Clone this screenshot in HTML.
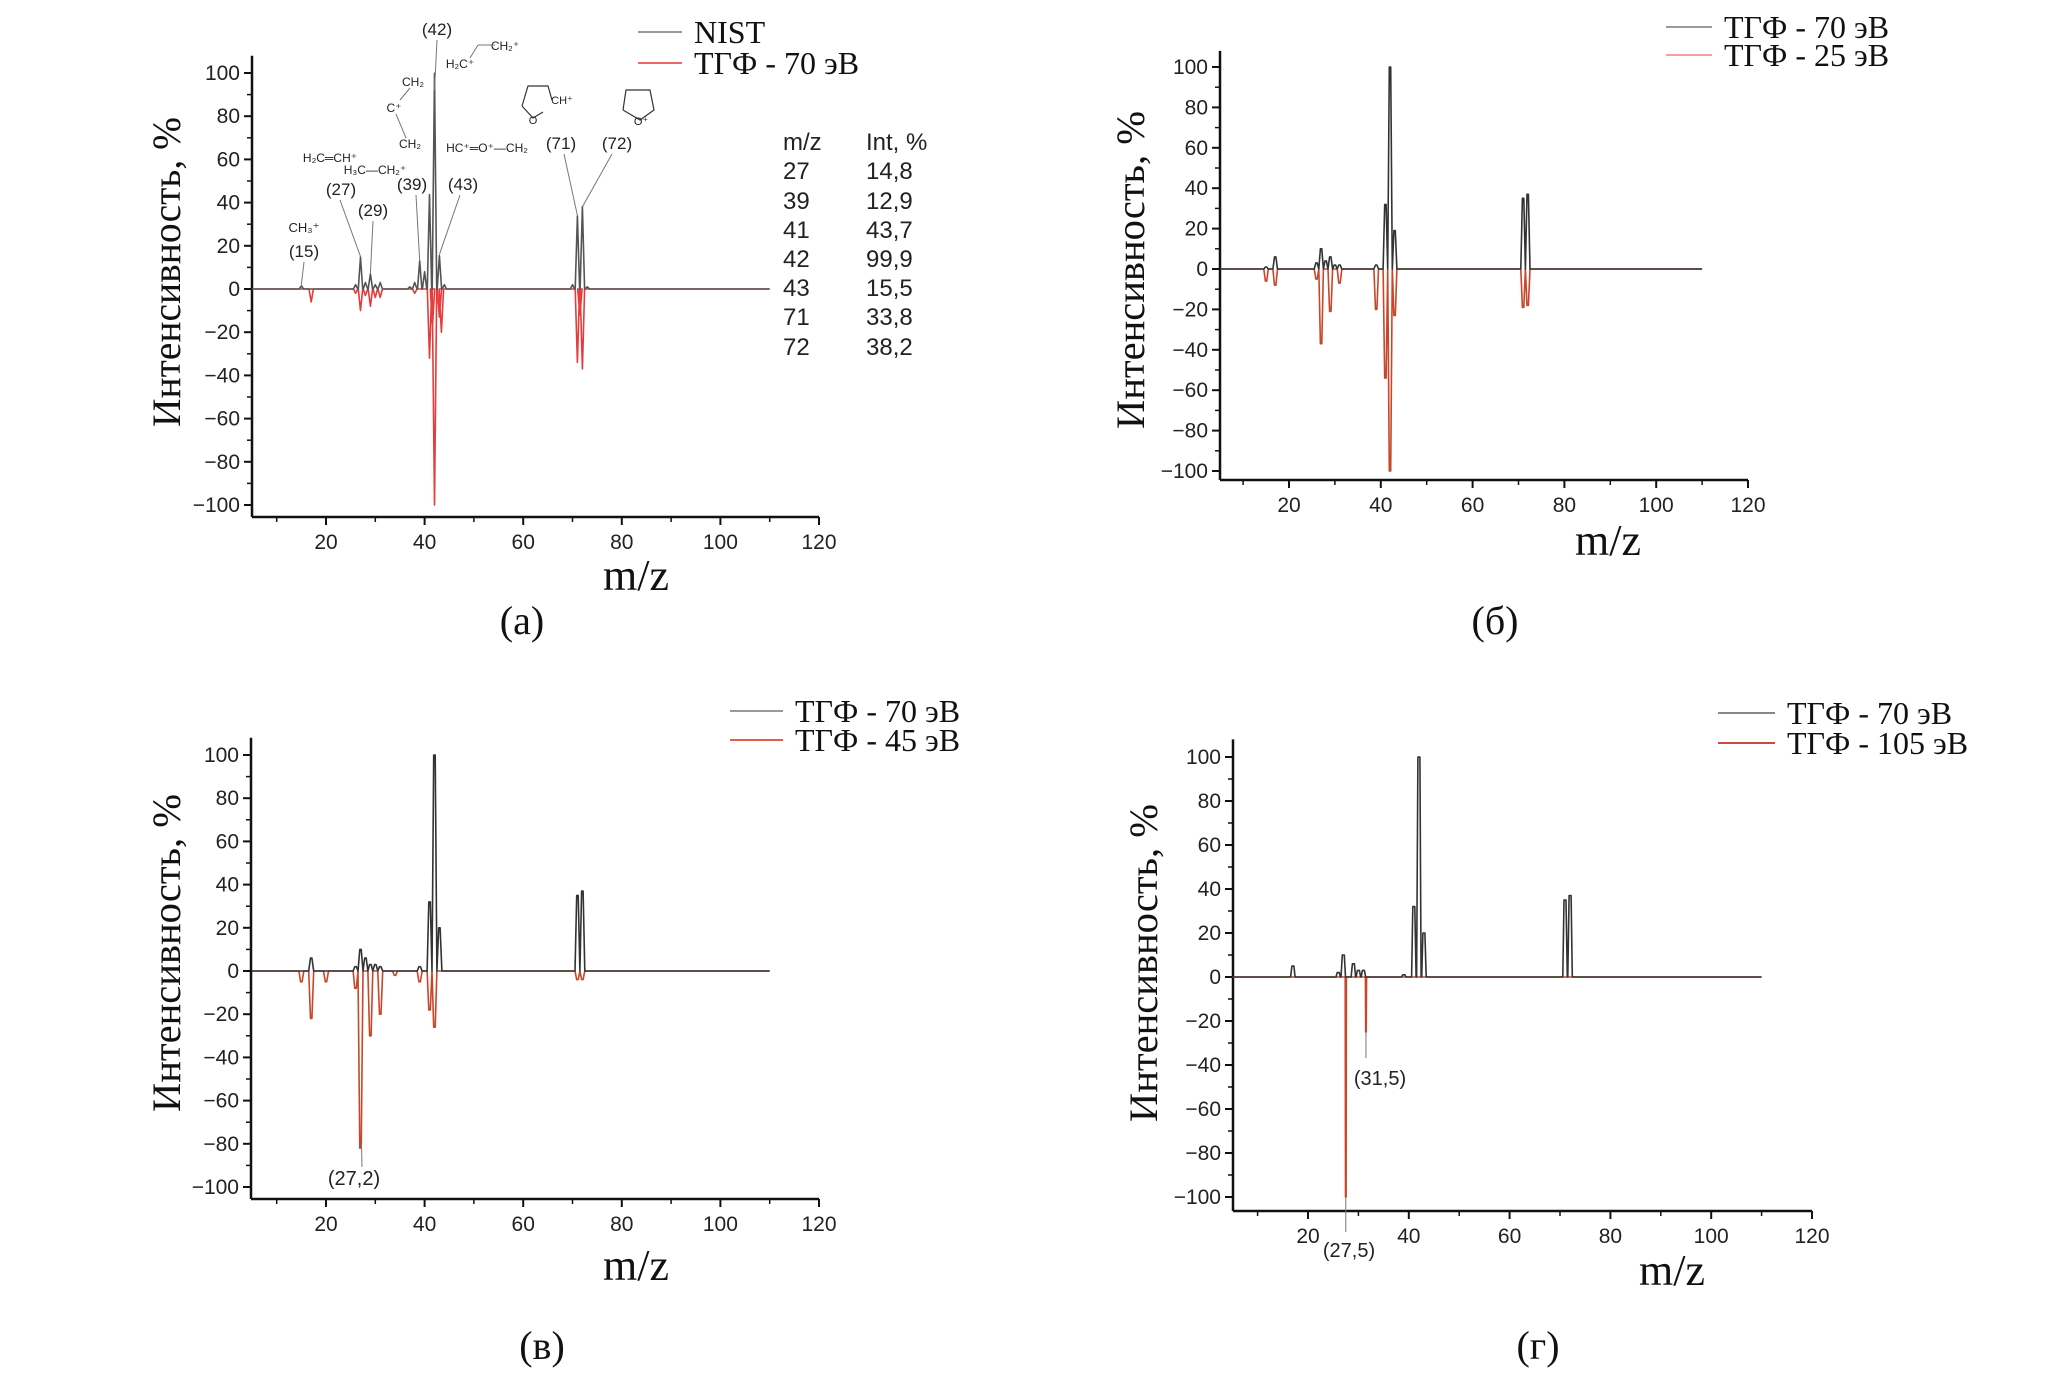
<!DOCTYPE html>
<html><head><meta charset="utf-8">
<style>
html,body{margin:0;padding:0;background:#fff}
svg{display:block}
.tick{font-family:"Liberation Sans Narrow","Liberation Sans",sans-serif;font-size:21px;fill:#222}
.ser{font-family:"Liberation Serif",serif;fill:#111}
.ann{font-family:"Liberation Sans Narrow","Liberation Sans",sans-serif;fill:#222}
</style></head>
<body>
<svg id="fig" width="2067" height="1388" viewBox="0 0 2067 1388" xmlns="http://www.w3.org/2000/svg">
<g id="layer"></g>
</svg>
<script>
// ---- data (m/z, intensity %) ----
const aBlackMz = [15,26,27,28,29,30,31,37,38,39,40,41,42,43,44,70,71,72,73];
const aBlackI  = [1.5,2,14.8,3,7,2,3,1,3,12.9,8,43.7,99.9,15.5,2,2,33.8,38.2,1];
const aRedMz   = [17,26,27,28,29,30,31,38,41,41.6,42,43,43.4,71,71.5,72];
const aRedI    = [-6,-2,-10,-3,-8,-4,-4,-2,-32,-17,-100,-13,-20,-34,-12,-37];

const bBlackMz = [15,17,26,27,28,29,30,31,39,41,42,43,71,72];
const bBlackI  = [1,6,3,10,4,6,2,2,2,32,100,19,35,37];
const bRedMz   = [15,17,26,27,29,31,39,41,42,43,71,72];
const bRedI    = [-6,-8,-5,-37,-21,-7,-20,-54,-100,-23,-19,-18];

const vBlackMz = [17,26,27,28,29,30,31,39,41,42,43,71,72];
const vBlackI  = [6,2,10,6,3,3,2,2,32,100,20,35,37];
const vRedMz   = [15,17,20,26,27,29,31,34,39,41,42,71,72];
const vRedI    = [-5,-22,-5,-8,-82,-30,-20,-2,-5,-18,-26,-4,-4];

const gBlackMz = [17,26,27,29,30,31,39,41,42,43,71,72];
const gBlackI  = [5,2,10,6,3,3,1,32,100,20,35,37];
const gRedMz   = [27.5,31.5];
const gRedI    = [-100,-25];

const yTicks = [-100,-80,-60,-40,-20,0,20,40,60,80,100];
const xTicks = [20,40,60,80,100,120];

const NS = "http://www.w3.org/2000/svg";
const layer = document.getElementById('layer');
function mk(tag, attrs, parent){
  const e = document.createElementNS(NS, tag);
  for (const k in attrs) e.setAttribute(k, attrs[k]);
  (parent||layer).appendChild(e);
  return e;
}

function spectrumPath(mz, inten, X, Y, hw, flat){
  const idx = mz.map((m,i)=>i).sort((a,b)=>mz[a]-mz[b]);
  let d = 'M' + X(5).toFixed(1) + ' ' + Y(0).toFixed(1);
  idx.forEach(i=>{
    const m = mz[i], h = inten[i];
    d += ' L' + X(m-hw).toFixed(1) + ' ' + Y(0).toFixed(1);
    if (flat){
      d += ' L' + X(m-flat).toFixed(1) + ' ' + Y(h).toFixed(1);
      d += ' L' + X(m+flat).toFixed(1) + ' ' + Y(h).toFixed(1);
    } else {
      d += ' L' + X(m).toFixed(1) + ' ' + Y(h).toFixed(1);
    }
    d += ' L' + X(m+hw).toFixed(1) + ' ' + Y(0).toFixed(1);
  });
  d += ' L' + X(110).toFixed(1) + ' ' + Y(0).toFixed(1);
  return d;
}

function panel(p){
  const g = mk('g', {});
  
  
  const X = v => p.x20 + (v-20)*(p.x120-p.x20)/100;
  const Y = v => p.y0 - v*(p.y0-p.y100)/100;
  const ya = mk('line', {x1:p.ax, y1:Y(108), x2:p.ax, y2:p.xAxisY, stroke:'#111','stroke-width':2.5}, g);
  
  
  const xa = mk('line', {x1:p.ax, y1:p.xAxisY, x2:X(120), y2:p.xAxisY, stroke:'#111','stroke-width':2.5}, g);
  
  
  yTicks.forEach(t=>{
    mk('line', {x1:p.ax-8, y1:Y(t), x2:p.ax, y2:Y(t), stroke:'#111','stroke-width':2}, g);
    if (t<100) mk('line', {x1:p.ax-5, y1:Y(t+10), x2:p.ax, y2:Y(t+10), stroke:'#111','stroke-width':1.5}, g);
    const tl = mk('text', {x:p.ax-12, y:Y(t)+7, 'text-anchor':'end', class:'tick'}, g);
    tl.textContent = (t<0 ? '\u2212' + (-t) : t);
    
    
  });
  xTicks.forEach(t=>{
    mk('line', {x1:X(t), y1:p.xAxisY, x2:X(t), y2:p.xAxisY+8, stroke:'#111','stroke-width':2}, g);
    mk('line', {x1:X(t-10), y1:p.xAxisY, x2:X(t-10), y2:p.xAxisY+5, stroke:'#111','stroke-width':1.5}, g);
    const tl = mk('text', {x:X(t), y:p.xAxisY+32, 'text-anchor':'middle', class:'tick'}, g);
    tl.textContent = t;
    
    
  });
  const rp = mk('path', {d:spectrumPath(p.redMz,p.redI,X,Y,p.rhw||p.hw,p.rflat===undefined?p.flat:p.rflat), fill:'none', stroke:p.red,'stroke-width':1.6,'stroke-linejoin':'round'}, g);
  
  
  const bp = mk('path', {d:spectrumPath(p.blackMz,p.blackI,X,Y,p.hw,p.flat), fill:'none', stroke:p.black,'stroke-width':1.6,'stroke-linejoin':'round'}, g);
  
  
  const xt = mk('text', {x:p.mzX, y:p.mzY+14, 'text-anchor':'middle', class:'ser', 'font-size':44}, g);
  xt.textContent = 'm/z';
  
  
  const yt = mk('text', {x:0, y:0, 'text-anchor':'middle', class:'ser', 'font-size':40, textLength:p.ytLen, lengthAdjust:'spacingAndGlyphs', transform:`translate(${p.ytX+14},${p.ytY}) rotate(-90)`}, g);
  yt.textContent = 'Интенсивность, %';
  
  
  const pl = mk('text', {x:p.lblX, y:p.lblY+13, 'text-anchor':'middle', class:'ser', 'font-size':40}, g);
  pl.textContent = p.label;
  
  
  p.legend.forEach((L,i)=>{
    const ly = p.legY[i];
    const ll = mk('line', {x1:p.legX1, y1:ly, x2:p.legX2, y2:ly, stroke:L.c,'stroke-width':2}, g);
    
    
    const lt = mk('text', {x:p.legX2+12, y:ly+11, class:'ser', 'font-size':32}, g);
    lt.textContent = L.t;
    
    
  });
  return {g,X,Y};
}

const A = panel({name:'panel-a', ax:252, x20:326, x120:819, y0:289, y100:73, xAxisY:517,
  blackMz:aBlackMz, blackI:aBlackI, redMz:aRedMz, redI:aRedI, hw:0.45, flat:0,
  black:'#555', red:'#e63c3c', mzX:636, mzY:576, ytX:166, ytY:272, ytLen:310,
  lblX:522, lblY:621, label:'(a)', legX1:638, legX2:682, legY:[32,63],
  legend:[{t:'NIST',c:'#999'},{t:'ТГФ - 70 эВ',c:'#e66'}]});
panel({name:'panel-b', ax:1220, x20:1289, x120:1748, y0:269, y100:67, xAxisY:480,
  blackMz:bBlackMz, blackI:bBlackI, redMz:bRedMz, redI:bRedI, hw:0.5, flat:0.15,
  black:'#333', red:'#c8462a', mzX:1608, mzY:541, ytX:1130, ytY:270, ytLen:318,
  lblX:1495, lblY:621, label:'(б)', legX1:1666, legX2:1712, legY:[27,55],
  legend:[{t:'ТГФ - 70 эВ',c:'#999'},{t:'ТГФ - 25 эВ',c:'#f4a0a0'}]});
const V = panel({name:'panel-v', ax:251, x20:326, x120:819, y0:971, y100:755, xAxisY:1199,
  blackMz:vBlackMz, blackI:vBlackI, redMz:vRedMz, redI:vRedI, hw:0.5, flat:0.15,
  black:'#333', red:'#c8462a', mzX:636, mzY:1266, ytX:166, ytY:953, ytLen:318,
  lblX:542, lblY:1346, label:'(в)', legX1:730, legX2:783, legY:[711,740],
  legend:[{t:'ТГФ - 70 эВ',c:'#999'},{t:'ТГФ - 45 эВ',c:'#e0604a'}]});
const G = panel({name:'panel-g', ax:1233, x20:1308, x120:1812, y0:977, y100:757, xAxisY:1211,
  blackMz:gBlackMz, blackI:gBlackI, redMz:gRedMz, redI:gRedI, hw:0.45, flat:0.2, rhw:0.12, rflat:0.05,
  black:'#333', red:'#c8462a', mzX:1672, mzY:1271, ytX:1143, ytY:963, ytLen:318,
  lblX:1538, lblY:1346, label:'(г)', legX1:1718, legX2:1775, legY:[713,743],
  legend:[{t:'ТГФ - 70 эВ',c:'#888'},{t:'ТГФ - 105 эВ',c:'#d04a3a'}]});

function ann(txt, x, y, size, name){
  const t = mk('text', {x:x, y:y, 'text-anchor':'middle', class:'ann', 'font-size':size});
  t.textContent = txt;
  
  
  return t;
}
function lead(x1,y1,x2,y2){
  const l = mk('line', {x1,y1,x2,y2, stroke:'#777','stroke-width':1});
  
  
}
const pk = [['(42)',437,35],['(71)',561,149],['(72)',617,149],['(39)',412,190],['(43)',463,190],['(27)',341,195],['(29)',373,216],['(15)',304,257]];
pk.forEach(p=>ann(p[0],p[1],p[2],17,'peak-label'));
lead(437,40,A.X(42),A.Y(92));
lead(564,154,A.X(71),A.Y(34)); lead(612,154,A.X(72),A.Y(38));
lead(416,195,A.X(39),A.Y(13)); lead(460,195,A.X(43),A.Y(16));
lead(340,200,A.X(27),A.Y(15)); lead(373,221,A.X(29),A.Y(7)); lead(304,262,A.X(15),A.Y(2));
ann('CH\u2083\u207A',304,232,13,'formula');
ann('H\u2082C\u2550CH\u207A',330,162,12,'formula');
ann('H\u2083C\u2014CH\u2082\u207A',375,174,12,'formula');
ann('CH\u2082',413,86,12,'formula');
ann('C\u207A',394,112,12,'formula');
ann('CH\u2082',410,148,12,'formula');
lead(396,114,406,138); lead(400,100,410,88);
ann('H\u2082C\u207A',460,68,12,'formula');
ann('CH\u2082\u207A',505,50,12,'formula');
lead(470,58,478,45); lead(478,45,495,45);
ann('HC\u207A\u2550O\u207A\u2014CH\u2082',487,152,12,'formula');
mk('path',{d:'M522 106 L528 86 L548 86 L552 100 M522 106 L533 118 L543 112',fill:'none',stroke:'#333','stroke-width':1.2});
ann('O',533,124,11,'formula'); ann('CH\u207A',562,104,11,'formula');
mk('path',{d:'M623 110 L626 90 L650 90 L654 110 L640 120 L623 110',fill:'none',stroke:'#333','stroke-width':1.2});
ann('O\u207A',641,125,11,'formula');
const tabMz = ['m/z','27','39','41','42','43','71','72'];
const tabInt = ['Int, %','14,8','12,9','43,7','99,9','15,5','33,8','38,2'];
const tabY = [150,179,209,238,267,296,325,355];
tabMz.forEach((v,i)=>{const t=mk('text',{x:783,y:tabY[i],class:'ann','font-size':24});t.textContent=v;});
tabInt.forEach((v,i)=>{const t=mk('text',{x:866,y:tabY[i],class:'ann','font-size':24});t.textContent=v;});
ann('(27,2)',354,1185,20,'peak-label');
lead(362,1167,V.X(27.2),V.Y(-80));
ann('(31,5)',1380,1085,20,'peak-label');
ann('(27,5)',1349,1257,20,'peak-label');
lead(G.X(31.5),G.Y(-25),G.X(31.5),1058);
lead(G.X(27.5),G.Y(-100),G.X(27.5),1232);
</script>
</body></html>
